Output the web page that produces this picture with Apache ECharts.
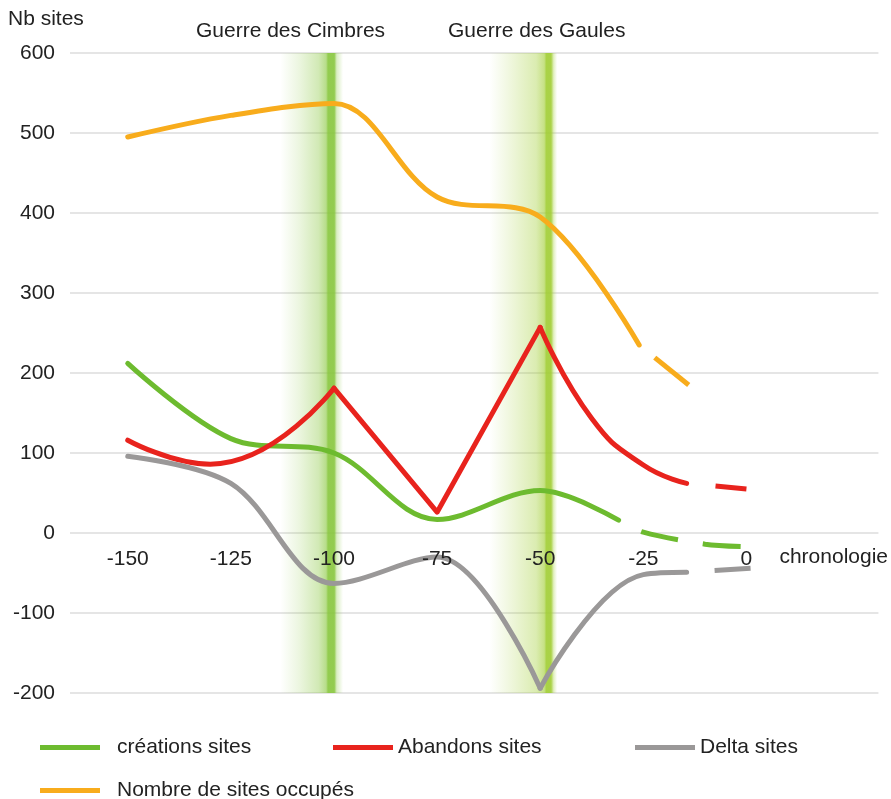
<!DOCTYPE html>
<html>
<head>
<meta charset="utf-8">
<script src="https://cdn.jsdelivr.net/npm/echarts@6/dist/echarts.min.js"></script>
<style>html,body{margin:0;padding:0;background:#fff}#c{width:891px;height:799px}</style>
</head>
<body>
<div id="c"></div>
<script>
// ---- data ----
const xTicks = [-150, -125, -100, -75, -50, -25, 0];
const yTicks = [-200, -100, 0, 100, 200, 300, 400, 500, 600];

// créations sites (green)
const creations      = [[-150, 212], [-125, 118], [-100, 100], [-75, 17], [-50, 53], [-31, 16]];
const creationsTail  = [[-31, 16], [-25, 1], [-10, -14], [-1, -17]];

// Abandons sites (red), three pieces: curve, straight V, decay
const abandonsA      = [[-150, 116], [-130, 86], [-100, 181]];
const abandonsB      = [[-100, 181], [-75, 26], [-50, 257]];
const abandonsC      = [[-50, 257], [-37.5, 143], [-25, 85], [-14.5, 62]];
const abandonsTail   = [[-14.5, 62], [0, 55]];

// Delta sites (grey), two pieces meeting at the -50 low point
const deltaA         = [[-150, 96], [-125, 62], [-100, -63], [-75, -30], [-50, -194]];
const deltaB         = [[-50, -194], [-25, -52], [-14.5, -49]];
const deltaTail      = [[-14.5, -49], [1, -44]];

// Nombre de sites occupés (orange)
const occupes        = [[-150, 495], [-125, 522], [-100, 537], [-75, 420], [-50, 395], [-26, 235]];
const occupesTail    = [[-26, 235], [-14, 185]];

const wars = [
  { name: 'Guerre des Cimbres', from: -113, to: -97.8 },
  { name: 'Guerre des Gaules',  from: -62.3, to: -45.9 }
];

const names = ['créations sites', 'Abandons sites', 'Delta sites', 'Nombre de sites occupés'];
const colors = ['#6dbb2f', '#e8231d', '#9a9898', '#f8ac1c'];

// ---- chart ----
const FONT = 'Liberation Sans, Arial, sans-serif';
const FS = 21;
const chart = echarts.init(document.getElementById('c'), null, { renderer: 'canvas' });

function bandGradient(lineStart, lineEnd, rgb) {
  return {
    type: 'linear', x: 0, y: 0, x2: 1, y2: 0,
    colorStops: [
      { offset: 0, color: 'rgba(' + rgb + ',0)' },
      { offset: 0.3, color: 'rgba(' + rgb + ',0.16)' },
      { offset: lineStart - 0.15, color: 'rgba(' + rgb + ',0.38)' },
      { offset: lineStart - 0.03, color: 'rgba(' + rgb + ',0.6)' },
      { offset: lineStart, color: 'rgba(' + rgb + ',0.9)' },
      { offset: lineEnd, color: 'rgba(' + rgb + ',0.9)' },
      { offset: Math.min(1, lineEnd + 0.04), color: 'rgba(' + rgb + ',0.3)' },
      { offset: 1, color: 'rgba(' + rgb + ',0)' }
    ]
  };
}

function mainSeries(i, data, smooth) {
  return {
    name: names[i], type: 'line', data: data, smooth: smooth,
    showSymbol: false, symbol: 'none', z: 3,
    itemStyle: { color: colors[i] },
    lineStyle: { color: colors[i], width: 5, cap: 'round', join: 'round' },
    emphasis: { disabled: true }
  };
}
function tailSeries(i, data, pattern, smooth) {
  return {
    name: names[i], type: 'line', data: data, smooth: smooth || 0,
    showSymbol: false, symbol: 'none', z: 3,
    itemStyle: { color: colors[i] },
    lineStyle: { color: colors[i], width: 5, type: pattern, dashOffset: pattern[0], cap: 'butt' },
    emphasis: { disabled: true }
  };
}

function legendFor(i, left, top, pad) {
  return {
    data: [names[i]], left: left, top: top, orient: 'horizontal',
    icon: 'rect', itemWidth: 60, itemHeight: 5, selectedMode: false,
    textStyle: { fontFamily: FONT, fontSize: FS, color: '#222', padding: [0, 0, 0, pad] }
  };
}

const option = {
  backgroundColor: '#ffffff',
  animation: false,
  title: [
    { text: 'Nb sites', left: 3, top: 4, textStyle: { fontFamily: FONT, fontSize: FS, fontWeight: 'normal', color: '#222' } },
    { text: wars[0].name, left: 191, top: 16, textStyle: { fontFamily: FONT, fontSize: FS, fontWeight: 'normal', color: '#222' } },
    { text: wars[1].name, left: 443, top: 16, textStyle: { fontFamily: FONT, fontSize: FS, fontWeight: 'normal', color: '#222' } }
  ],
  grid: { left: 70, right: 10, top: 53, bottom: 106, containLabel: false },
  xAxis: {
    type: 'value', min: -164, max: 32, offset: -160, z: 10,
    axisLine: { show: false, onZero: false },
    axisTick: { show: false }, splitLine: { show: false },
    axisLabel: { customValues: xTicks, margin: 16, fontFamily: FONT, fontSize: FS, color: '#222' },
    name: 'chronologie', nameLocation: 'end', nameGap: -99,
    nameTextStyle: { fontFamily: FONT, fontSize: FS, color: '#222', align: 'left', verticalAlign: 'top', padding: [14, 0, 0, 0] }
  },
  yAxis: {
    type: 'value', min: -200, max: 600, interval: 100,
    axisLine: { show: false, onZero: false }, axisTick: { show: false },
    splitLine: { show: true, lineStyle: { color: '#dcdcdc', width: 1.5 } },
    axisLabel: { margin: 15, fontFamily: FONT, fontSize: FS, color: '#222' }
  },
  legend: [
    legendFor(0, 35, 732, 12),
    legendFor(1, 328, 732, 0),
    legendFor(2, 630, 732, 0),
    legendFor(3, 35, 775, 12)
  ],
  series: [
    {
      name: 'bands', type: 'line', data: [], z: 1, silent: true,
      markArea: {
        silent: true,
        label: { show: false },
        data: [
          [{ xAxis: wars[0].from, itemStyle: { color: bandGradient(0.76, 0.86, '135,198,60') } }, { xAxis: wars[0].to }],
          [{ xAxis: wars[1].from, itemStyle: { color: bandGradient(0.84, 0.91, '160,205,50') } }, { xAxis: wars[1].to }]
        ]
      }
    },
    mainSeries(3, occupes, 0.35),
    tailSeries(3, occupesTail, [44, 20]),
    mainSeries(0, creations, 0.35),
    tailSeries(0, creationsTail, [38, 25], 0.3),
    mainSeries(1, abandonsA, 0.5),
    mainSeries(1, abandonsB, 0),
    mainSeries(1, abandonsC, 0.5),
    tailSeries(1, abandonsTail, [33, 29]),
    mainSeries(2, deltaA, 0.35),
    mainSeries(2, deltaB, 0.4),
    tailSeries(2, deltaTail, [37, 28])
  ]
};
chart.setOption(option);
</script>
</body>
</html>
